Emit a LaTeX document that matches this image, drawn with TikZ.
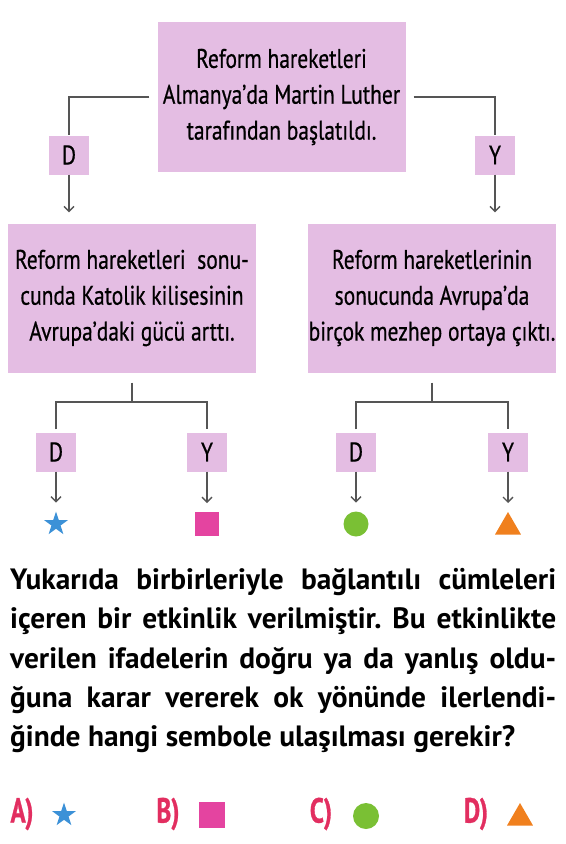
\documentclass[tikz,border=0pt]{standalone}
\usepackage{fontspec}
\setmainfont{PT Sans}
\newfontfamily\condfont{PT Sans}[FakeStretch=0.8, FakeBold=0.6]
\newfontfamily\ansfont{PT Sans}[FakeStretch=0.72, FakeBold=0.8]
\usetikzlibrary{shapes.geometric, arrows.meta, positioning}
\definecolor{boxfill}{RGB}{228,189,227}
\definecolor{linegray}{RGB}{85,85,85}
\definecolor{starblue}{RGB}{60,145,215}
\definecolor{sqpink}{RGB}{228,68,160}
\definecolor{circgreen}{RGB}{122,192,52}
\definecolor{triorange}{RGB}{240,128,30}
\definecolor{ansred}{RGB}{226,46,96}

\begin{document}
\begin{tikzpicture}[x=1bp, y=-1bp,
  box/.style={rectangle, fill=boxfill, minimum width=248bp, minimum height=149bp,
              inner sep=0pt, align=center, font=\condfont\fontsize{27}{36}\selectfont},
  tag/.style={rectangle, fill=boxfill, minimum width=40bp, minimum height=39bp,
              inner sep=0pt, font=\condfont\fontsize{27}{28}\selectfont},
  ln/.style={draw=linegray, line width=1.3bp},
  a/.style={ln, -{Straight Barb[length=5bp, width=10bp]}},
  sym/.style={inner sep=0pt, outer sep=0pt},
  ans/.style={font=\ansfont\bfseries\fontsize{35}{36}\selectfont, text=ansred}]
  \useasboundingbox (0,0) rectangle (566,844);
  \node[box] (top) at (281.5,97) {Reform hareketleri\\Almanya’da Martin Luther\\tarafından başlatıldı.};
  \node[tag] (d1) at (69,155) {D};
  \node[tag] (y1) at (495,155) {Y};
  \node[box] (lbox) at (132,298) {Reform hareketleri\ \ sonu-\\cunda Katolik kilisesinin\\Avrupa’daki gücü arttı.};
  \node[box] (rbox) at (432,298) {Reform hareketlerinin\\sonucunda Avrupa’da\\birçok mezhep ortaya çıktı.};
  \draw[ln, shorten <=8bp] (top.west) -| (d1.north);
  \draw[ln, shorten <=8bp] (top.east) -| (y1.north);
  \draw[a, shorten >=11bp] (d1) -- (d1 |- lbox.north);
  \draw[a, shorten >=11bp] (y1) -- (y1 |- rbox.north);

  \node[tag] (d2) at (56,452) {D};
  \node[tag] (y2) at (207,452) {Y};
  \node[tag] (d3) at (356,452) {D};
  \node[tag] (y3) at (508,452) {Y};
  \coordinate (lfork) at (132,402);
  \coordinate (rfork) at (432,402);
  \draw[ln, shorten <=10bp] (lbox.south) -- (lfork);
  \draw[ln, shorten <=10bp] (rbox.south) -- (rfork);
  \draw[ln, shorten <=3bp, shorten >=3bp] (d2.north) |- (lfork) -| (y2.north);
  \draw[ln, shorten <=3bp, shorten >=3bp] (d3.north) |- (rfork) -| (y3.north);

  \node[sym, star, star points=5, star point ratio=2.6, minimum size=25bp, fill=starblue] (s1) at (56,524) {};
  \node[sym, rectangle, minimum size=24bp, fill=sqpink] (s2) at (207,524) {};
  \node[sym, circle, minimum size=25bp, fill=circgreen] (s3) at (356,524) {};
  \node[sym, regular polygon, regular polygon sides=3, minimum size=30bp, fill=triorange] (s4) at (508,527) {};
  \draw[a, shorten >=9bp] (d2) -- (s1);
  \draw[a, shorten >=9bp] (y2) -- (s2);
  \draw[a, shorten >=9bp] (d3) -- (s3);
  \draw[a, shorten >=9bp] (y3) -- (s4);

  \node[anchor=north west, text width=546bp, align=justify, inner sep=0pt,
        font=\bfseries\fontsize{29.5}{39.5}\selectfont] (quest) at (10,568)
    {\frenchspacing\tolerance=10000\hyphenpenalty=10000
     Yukarıda birbirleriyle bağlantılı cümleleri\linebreak
     içeren bir etkinlik verilmiştir. Bu etkinlikte\linebreak
     verilen ifadelerin doğru ya da yanlış oldu-\linebreak
     ğuna karar vererek ok yönünde ilerlendi-\linebreak
     ğinde hangi sembole ulaşılması gerekir?};

  \node[ans] (la) at (22,814) {A)};
  \node[sym, star, star points=5, star point ratio=2.6, minimum size=25bp, fill=starblue] (aa) at (64,815) {};
  \node[ans] (lb) at (168,814) {B)};
  \node[sym, rectangle, minimum size=26bp, fill=sqpink] (ab) at (212,815) {};
  \node[ans] (lc) at (321,814) {C)};
  \node[sym, circle, minimum size=26bp, fill=circgreen] (ac) at (366,816) {};
  \node[ans] (ld) at (476,814) {D)};
  \node[sym, regular polygon, regular polygon sides=3, minimum size=30bp, fill=triorange] (ad) at (520,818) {};
\end{tikzpicture}
\end{document}
